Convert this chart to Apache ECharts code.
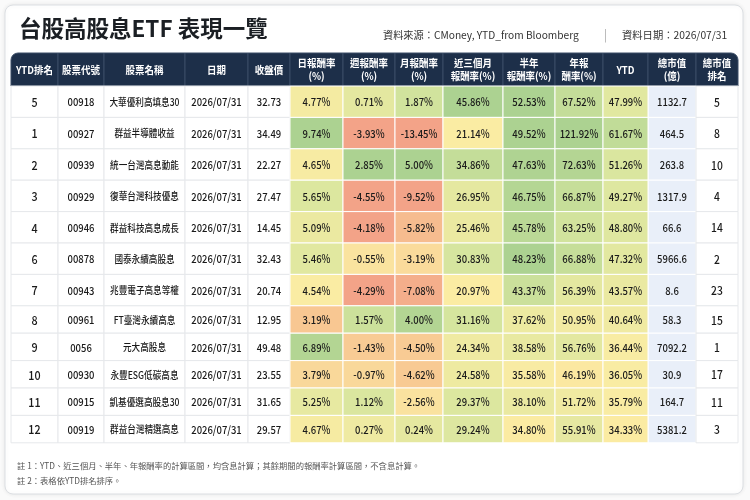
<!DOCTYPE html>
<html>
<head>
<meta charset="utf-8">
<script src="https://cdn.jsdelivr.net/npm/echarts@6/dist/echarts.min.js"></script>
<style>
  html, body { margin: 0; padding: 0; background: #fafafa; }
  #chart { width: 750px; height: 500px; }
</style>
</head>
<body>
<div id="chart"></div>
<script>
// table contents
const headers = ["YTD排名", "股票代號", "股票名稱", "日期", "收盤價", "日報酬率\n(%)", "週報酬率\n(%)", "月報酬率\n(%)",
  "近三個月\n報酬率(%)", "半年\n報酬率(%)", "年報\n酬率(%)", "YTD", "總市值\n(億)", "總市值\n排名"];
const ytdRank = [5, 1, 2, 3, 4, 6, 7, 8, 9, 10, 11, 12];
const codes = ["00918", "00927", "00939", "00929", "00946", "00878", "00943", "00961", "0056", "00930", "00915", "00919"];
const names = ["大華優利高填息30", "群益半導體收益", "統一台灣高息動能", "復華台灣科技優息", "群益科技高息成長", "國泰永續高股息",
  "兆豐電子高息等權", "FT臺灣永續高息", "元大高股息", "永豐ESG低碳高息", "凱基優選高股息30", "群益台灣精選高息"];
const dates = ["2026/07/31", "2026/07/31", "2026/07/31", "2026/07/31", "2026/07/31", "2026/07/31",
  "2026/07/31", "2026/07/31", "2026/07/31", "2026/07/31", "2026/07/31", "2026/07/31"];
const closePrice = [32.73, 34.49, 22.27, 27.47, 14.45, 32.43, 20.74, 12.95, 49.48, 23.55, 31.65, 29.57];
const dailyRet = [4.77, 9.74, 4.65, 5.65, 5.09, 5.46, 4.54, 3.19, 6.89, 3.79, 5.25, 4.67];
const weeklyRet = [0.71, -3.93, 2.85, -4.55, -4.18, -0.55, -4.29, 1.57, -1.43, -0.97, 1.12, 0.27];
const monthlyRet = [1.87, -13.45, 5.00, -9.52, -5.82, -3.19, -7.08, 4.00, -4.50, -4.62, -2.56, 0.24];
const threeMonthRet = [45.86, 21.14, 34.86, 26.95, 25.46, 30.83, 20.97, 31.16, 24.34, 24.58, 29.37, 29.24];
const halfYearRet = [52.53, 49.52, 47.63, 46.75, 45.78, 48.23, 43.37, 37.62, 38.58, 35.58, 38.10, 34.80];
const oneYearRet = [67.52, 121.92, 72.63, 66.87, 63.25, 66.88, 56.39, 50.95, 56.76, 46.19, 51.72, 55.91];
const ytdRet = [47.99, 61.67, 51.26, 49.27, 48.80, 47.32, 43.57, 40.64, 36.44, 36.05, 35.79, 34.33];
const marketCap = [1132.7, 464.5, 263.8, 1317.9, 66.6, 5966.6, 8.6, 58.3, 7092.2, 30.9, 164.7, 5381.2];
const capRank = [5, 8, 10, 4, 14, 2, 23, 15, 1, 17, 11, 3];

// layout / style
const colWidths = [47, 46, 81, 63, 42, 53, 52, 48, 60, 52, 48, 45, 48, 42];
const rowHeights = [33, 31.4, 31.4, 31.4, 31.4, 31.4, 31.4, 31.4, 27.4, 27.4, 27.4, 27.4, 27.4];
const heatPalette = ["#f3a388", "#f8c792", "#fbeca3", "#d8e69f", "#acd291"];
// visual range used for each return column (low -> red, high -> green)
const heatRanges = [[1.9, 7.1], [-3, 2.6], [-8, 4.5], [2, 40], [22, 48], [20, 75], [0, 70]];
const FONT = "'Noto Sans CJK TC', 'Noto Sans', sans-serif";
const NARROW = 0.86;

const colEdges = [0];
colWidths.forEach((w) => colEdges.push(colEdges[colEdges.length - 1] + w));
const rowEdges = [0];
rowHeights.forEach((h) => rowEdges.push(rowEdges[rowEdges.length - 1] + h));
const tableW = colEdges[colEdges.length - 1];
const tableH = rowEdges[rowEdges.length - 1];

const fmtPct = (v) => v.toFixed(2) + "%";

// plain (uncoloured) columns
const plainCols = [
  { col: 0, texts: ytdRank.map(String), size: 12.5 },
  { col: 1, texts: codes },
  { col: 2, texts: names, size: 10 },
  { col: 3, texts: dates },
  { col: 4, texts: closePrice.map((v) => v.toFixed(2)) },
  { col: 12, texts: marketCap.map((v) => v.toFixed(1)), fill: "#e9eff9" },
  { col: 13, texts: capRank.map(String), size: 12 },
];
const heatCols = [dailyRet, weeklyRet, monthlyRet, threeMonthRet, halfYearRet, oneYearRet, ytdRet];

const plainCells = [];
plainCols.forEach((c) => {
  c.texts.forEach((t, r) => plainCells.push({
    col: c.col, row: r + 1, text: t, fill: c.fill || "#ffffff", size: c.size || 11,
  }));
});

function cellBox(api, col, row) {
  const p0 = api.coord([colEdges[col], rowEdges[row]]);
  const p1 = api.coord([colEdges[col + 1], rowEdges[row + 1]]);
  return { x: p0[0], y: p0[1], width: p1[0] - p0[0], height: p1[1] - p0[1] };
}

function cellGroup(box, fill, stroke, text, textStyle, r, scaleX) {
  return {
    type: "group",
    children: [
      { type: "rect", shape: Object.assign({ r: r || 0 }, box), style: { fill: fill, stroke: stroke, lineWidth: 1 } },
      {
        type: "text",
        x: box.x + box.width / 2,
        y: box.y + box.height / 2 + 0.5,
        scaleX: scaleX || 1,
        style: Object.assign({
          text: text, x: 0, y: 0,
          align: "center", verticalAlign: "middle", fontFamily: FONT, fontSize: 11,
          fontWeight: 500, fill: "#1a1a1a",
        }, textStyle),
      },
    ],
  };
}

const series = [];

// header row
series.push({
  type: "custom",
  coordinateSystem: "cartesian2d",
  data: headers.map((h, i) => [i, 0]),
  renderItem: (params, api) => {
    const col = api.value(0);
    const box = cellBox(api, col, 0);
    let r = 0;
    if (col === 0) r = [7, 0, 0, 0];
    if (col === headers.length - 1) r = [0, 7, 0, 0];
    return cellGroup(box, "#1d2f49", "#3b4d66", headers[col],
      { fill: "#ffffff", fontWeight: "bold", fontSize: 10.5, lineHeight: 13 }, r, 0.9);
  },
});

// plain cells
series.push({
  type: "custom",
  coordinateSystem: "cartesian2d",
  data: plainCells.map((c) => [c.col, c.row]),
  renderItem: (params, api) => {
    const c = plainCells[params.dataIndex];
    const box = cellBox(api, c.col, c.row);
    return cellGroup(box, c.fill, c.fill === "#ffffff" ? "#e6e8eb" : "#ffffff", c.text,
      { fontSize: c.size }, 0, NARROW);
  },
});

// coloured return columns, each with its own visual scale
const visualMaps = [];
heatCols.forEach((vals, k) => {
  const col = 5 + k;
  visualMaps.push({
    type: "continuous",
    show: false,
    seriesIndex: series.length,
    dimension: 2,
    min: heatRanges[k][0],
    max: heatRanges[k][1],
    inRange: { color: heatPalette },
  });
  series.push({
    type: "custom",
    coordinateSystem: "cartesian2d",
    dimensions: ["col", "row", "value"],
    encode: { x: 0, y: 1 },
    data: vals.map((v, r) => [col, r + 1, v]),
    renderItem: (params, api) => {
      const box = cellBox(api, api.value(0), api.value(1));
      return cellGroup(box, api.visual("color"), "#ffffff", fmtPct(api.value(2)), {}, 0, NARROW);
    },
  });
});

const chart = echarts.init(document.getElementById("chart"));
chart.setOption({
  animation: false,
  backgroundColor: "#fafafa",
  graphic: [
    {
      type: "rect",
      z: -10,
      shape: { x: 5, y: 5, width: 738, height: 489, r: 8 },
      style: { fill: "#ffffff", stroke: "#dcdfe3", lineWidth: 1, shadowBlur: 4, shadowColor: "rgba(0,0,0,0.08)" },
    },
  ],
  title: [
    {
      text: "台股高股息ETF 表現一覽",
      left: 14, top: 12,
      textStyle: { fontFamily: FONT, fontSize: 22.5, fontWeight: "bold", color: "#1b1f24" },
    },
    {
      text: "資料來源：CMoney, YTD_from Bloomberg",
      left: 378, top: 25,
      textStyle: { fontFamily: FONT, fontSize: 10.2, fontWeight: "normal", color: "#333" },
    },
    {
      text: "|",
      left: 599, top: 23,
      textStyle: { fontFamily: FONT, fontSize: 12, fontWeight: "normal", color: "#aaa" },
    },
    {
      text: "資料日期：2026/07/31",
      left: 617, top: 25,
      textStyle: { fontFamily: FONT, fontSize: 10.3, fontWeight: "normal", color: "#333" },
    },
    {
      text: "註 1：YTD、近三個月、半年、年報酬率的計算區間，均含息計算；其餘期間的報酬率計算區間，不含息計算。",
      left: 12, top: 457,
      textStyle: { fontFamily: FONT, fontSize: 8.3, fontWeight: "normal", color: "#555" },
    },
    {
      text: "註 2：表格依YTD排名排序。",
      left: 12, top: 472,
      textStyle: { fontFamily: FONT, fontSize: 8.3, fontWeight: "normal", color: "#555" },
    },
  ],
  grid: { left: 11, top: 53, width: tableW, height: tableH },
  xAxis: { type: "value", min: 0, max: tableW, show: false },
  yAxis: { type: "value", min: 0, max: tableH, inverse: true, show: false },
  visualMap: visualMaps,
  series: series,
});
</script>
</body>
</html>
